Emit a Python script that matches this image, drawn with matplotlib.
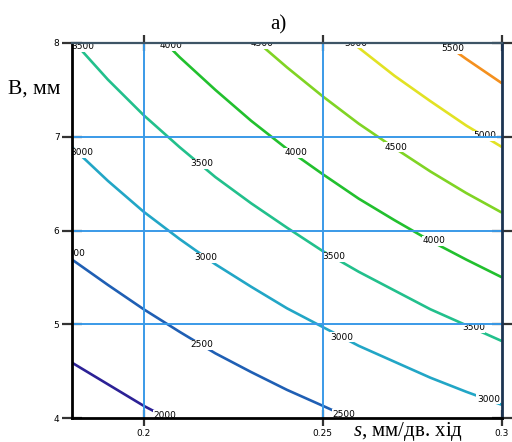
import matplotlib
matplotlib.use("Agg")
import matplotlib.pyplot as plt

# ---- data (s in mm/rev, B in mm) ----
levels = [2000, 2500, 3000, 3500, 4000, 4500, 5000, 5500]
colors = ["#2c2196", "#1f5fb4", "#22a6c6", "#22c08c", "#22c02e", "#80d424", "#e2e224", "#f4901e"]

s_2000 = [0.180, 0.190, 0.200, 0.2065]
B_2000 = [4.59, 4.36, 4.13, 4.00]

s_2500 = [0.180, 0.190, 0.200, 0.210, 0.220, 0.230, 0.240, 0.250, 0.2575]
B_2500 = [5.69, 5.42, 5.16, 4.92, 4.69, 4.49, 4.30, 4.13, 4.00]

s_3000 = [0.180, 0.190, 0.200, 0.210, 0.220, 0.230, 0.240, 0.250, 0.260, 0.270, 0.280, 0.290, 0.300]
B_3000 = [6.89, 6.53, 6.20, 5.91, 5.64, 5.40, 5.17, 4.97, 4.77, 4.60, 4.43, 4.28, 4.14]

s_3500 = [0.1808, 0.190, 0.200, 0.210, 0.220, 0.230, 0.240, 0.250, 0.260, 0.270, 0.280, 0.290, 0.300]
B_3500 = [8.00, 7.61, 7.23, 6.89, 6.57, 6.29, 6.03, 5.78, 5.56, 5.36, 5.16, 4.99, 4.82]

s_4000 = [0.2061, 0.210, 0.220, 0.230, 0.240, 0.250, 0.260, 0.270, 0.280, 0.290, 0.300]
B_4000 = [8.00, 7.85, 7.50, 7.17, 6.87, 6.60, 6.34, 6.11, 5.89, 5.69, 5.50]

s_4500 = [0.2321, 0.240, 0.250, 0.260, 0.270, 0.280, 0.290, 0.300]
B_4500 = [8.00, 7.74, 7.43, 7.14, 6.88, 6.63, 6.40, 6.19]

s_5000 = [0.2583, 0.260, 0.270, 0.280, 0.290, 0.300]
B_5000 = [8.00, 7.95, 7.65, 7.38, 7.12, 6.89]

s_5500 = [0.2838, 0.290, 0.300]
B_5500 = [8.00, 7.83, 7.57]

curves_s = [s_2000, s_2500, s_3000, s_3500, s_4000, s_4500, s_5000, s_5500]
curves_B = [B_2000, B_2500, B_3000, B_3500, B_4000, B_4500, B_5000, B_5500]

# contour label positions (s, B, text)
label_s = [0.2058, 0.1804, 0.2163, 0.2558, 0.1826, 0.2174, 0.2553, 0.2962,
           0.1830, 0.2161, 0.2531, 0.2920, 0.2077, 0.2425, 0.2809,
           0.2331, 0.2703, 0.2592, 0.2953, 0.2864]
label_B = [4.03, 5.76, 4.78, 4.04, 6.83, 5.71, 4.86, 4.20,
           7.96, 6.71, 5.72, 4.96, 7.97, 6.83, 5.89,
           7.99, 6.89, 8.00, 7.01, 7.94]
label_t = ["2000", "2500", "2500", "2500", "3000", "3000", "3000", "3000",
           "3500", "3500", "3500", "3500", "4000", "4000", "4000",
           "4500", "4500", "5000", "5000", "5500"]

x_ticks = [0.2, 0.25, 0.3]
x_ticklabels = ["0.2", "0.25", "0.3"]
y_ticks = [4, 5, 6, 7, 8]
y_ticklabels = ["4", "5", "6", "7", "8"]

plt.rcParams["mathtext.fontset"] = "custom"
plt.rcParams["mathtext.it"] = "Liberation Serif:italic"
plt.rcParams["mathtext.rm"] = "Liberation Serif"

fig = plt.figure(figsize=(5.12, 4.42), dpi=100)
ax = fig.add_axes([72 / 512, 1 - 418 / 442, 430 / 512, 375 / 442])

for xs, ys, c in zip(curves_s, curves_B, colors):
    ax.plot(xs, ys, color=c, lw=1.9, zorder=2, solid_capstyle="butt")

for xs, ys, t in zip(label_s, label_B, label_t):
    ax.text(xs, ys, t, fontsize=6.5, ha="center", va="center", color="black",
            zorder=2.2, clip_on=True,
            bbox=dict(boxstyle="square,pad=0.05", fc="white", ec="none"))

ax.set_xlim(0.18, 0.30)
ax.set_ylim(4, 8)
ax.set_xticks(x_ticks)
ax.set_xticklabels(x_ticklabels)
ax.set_yticks(y_ticks)
ax.set_yticklabels(y_ticklabels)

for v in [0.2, 0.25]:
    ax.axvline(v, color="#3a9ae8", lw=1.4, zorder=2.3)
for v in [5, 6, 7]:
    ax.axhline(v, color="#3a9ae8", lw=1.4, zorder=2.3)

ax.tick_params(axis="both", which="major", labelsize=6.5, direction="inout",
               length=12, width=1.6, color="#333333", pad=2)
ax.tick_params(top=True, right=True, direction="in", length=7)
ax.tick_params(axis="x", bottom=True, direction="inout", length=12)
ax.tick_params(axis="y", left=True, direction="inout", length=14)
ax.tick_params(labeltop=False, labelright=False)

for side in ["left", "bottom"]:
    ax.spines[side].set_color("black")
    ax.spines[side].set_linewidth(2.0)
ax.spines["top"].set_color("#3e5566")
ax.spines["top"].set_linewidth(1.6)
ax.spines["right"].set_color("#1c3452")
ax.spines["right"].set_linewidth(2.0)
for sp in ax.spines.values():
    sp.set_zorder(2.5)

fig.text(278 / 512, 1 - 25 / 442, "а)", fontsize=15, family="Liberation Serif",
         ha="center", va="center")
fig.text(8 / 512, 1 - 89 / 442, "B, мм", fontsize=15.5, family="Liberation Serif",
         ha="left", va="center")
fig.text(353 / 512, 1 - 436 / 442, r"$\it{s}$, мм/дв. хід", fontsize=15,
         family="Liberation Serif", ha="left", va="baseline")

fig.savefig("out.png", dpi=100)
